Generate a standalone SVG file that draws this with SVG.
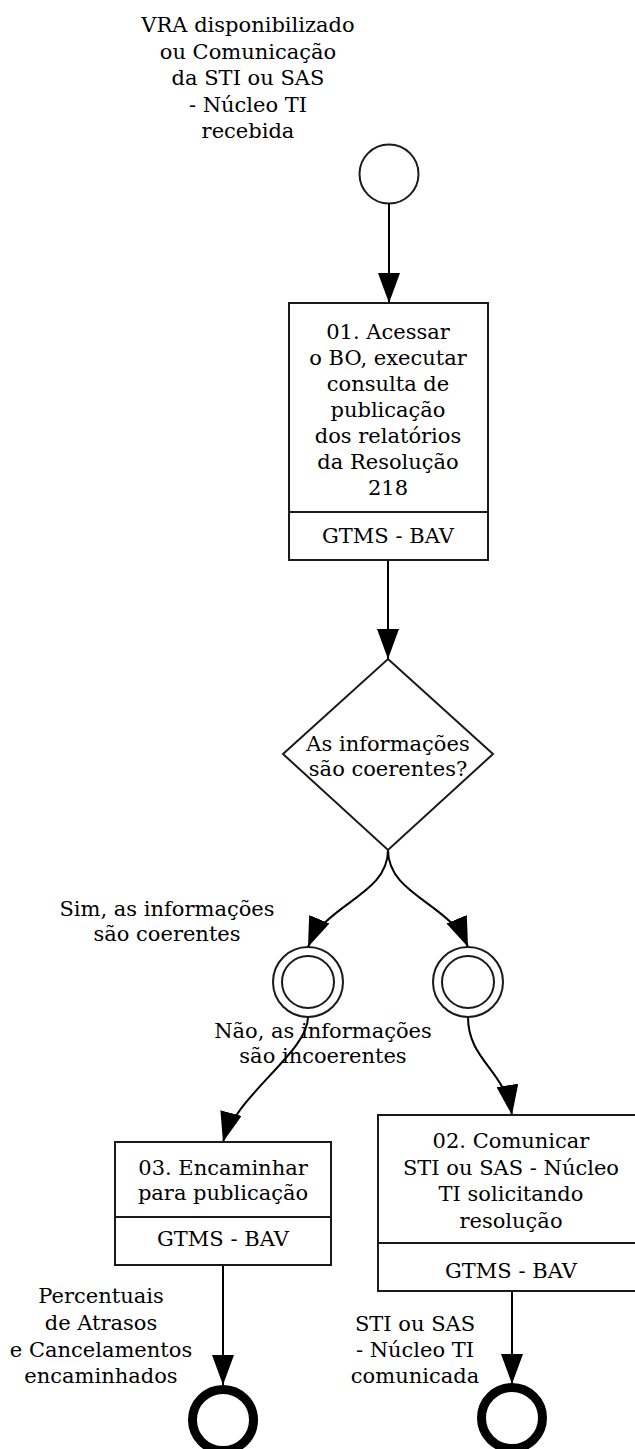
<svg xmlns="http://www.w3.org/2000/svg" width="635" height="1449" viewBox="0 0 635 1449">
<style>
text{font-family:"DejaVu Serif","Liberation Serif",serif;font-size:21px;fill:#000;text-anchor:middle}
.shape{fill:#fff;stroke:#1a1a1a;stroke-width:2}
.end{fill:none;stroke:#000;stroke-width:9}
.conn{fill:none;stroke:#000;stroke-width:2}
</style>
<defs>
<marker id="arr" markerUnits="userSpaceOnUse" markerWidth="30" markerHeight="22" refX="30" refY="11" orient="auto" viewBox="0 0 30 22">
<path d="M0,0 L30,11 L0,22 z" fill="#000"/>
</marker>
</defs>
<rect width="635" height="1449" fill="#fff"/>

<g id="connectors">
<path class="conn" d="M389,203 L389,303" marker-end="url(#arr)"/>
<path class="conn" d="M388,560 L388,659" marker-end="url(#arr)"/>
<path class="conn" d="M388,850 C388,895 326,903 308,947" marker-end="url(#arr)"/>
<path class="conn" d="M388,850 C388,895 450,903 468,947" marker-end="url(#arr)"/>
<path class="conn" d="M308,1017 C308,1052 236,1095 223,1142" marker-end="url(#arr)"/>
<path class="conn" d="M468,1017 C468,1060 505,1070 512,1115" marker-end="url(#arr)"/>
<path class="conn" d="M223,1265 L223,1385" marker-end="url(#arr)"/>
<path class="conn" d="M512,1291 L512,1384" marker-end="url(#arr)"/>
</g>

<g id="start">
<text x="248" y="32">VRA disponibilizado</text>
<text x="248" y="58.5">ou Comunicação</text>
<text x="248" y="85">da STI ou SAS</text>
<text x="248" y="111.5">- Núcleo TI</text>
<text x="248" y="138">recebida</text>
<circle class="shape" cx="389" cy="174" r="29.5"/>
</g>

<g id="task01">
<rect class="shape" x="289" y="303" width="199" height="257"/>
<line class="shape" x1="289" y1="512" x2="488" y2="512"/>
<text x="388" y="339">01. Acessar</text>
<text x="388" y="365">o BO, executar</text>
<text x="388" y="391">consulta de</text>
<text x="388" y="417">publicação</text>
<text x="388" y="443">dos relatórios</text>
<text x="388" y="469">da Resolução</text>
<text x="388" y="495">218</text>
<text x="388" y="543">GTMS - BAV</text>
</g>

<g id="gateway">
<polygon class="shape" points="388,659 493,754 388,850 283,754"/>
<text x="388" y="751">As informações</text>
<text x="388" y="776">são coerentes?</text>
</g>

<g id="event-sim">
<circle class="shape" cx="308" cy="982" r="35"/>
<circle class="shape" cx="308" cy="982" r="26"/>
<text x="167" y="916">Sim, as informações</text>
<text x="167" y="941">são coerentes</text>
</g>

<g id="event-nao">
<circle class="shape" cx="468" cy="982" r="35"/>
<circle class="shape" cx="468" cy="982" r="26"/>
</g>

<g id="label-nao">
<text x="323" y="1038">Não, as informações</text>
<text x="323" y="1063">são incoerentes</text>
</g>

<g id="task03">
<rect class="shape" x="115" y="1142" width="216" height="123"/>
<line class="shape" x1="115" y1="1217" x2="331" y2="1217"/>
<text x="223" y="1175">03. Encaminhar</text>
<text x="223" y="1200">para publicação</text>
<text x="223" y="1246">GTMS - BAV</text>
</g>

<g id="task02">
<rect class="shape" x="378" y="1115" width="268" height="176"/>
<line class="shape" x1="378" y1="1243" x2="646" y2="1243"/>
<text x="511" y="1148">02. Comunicar</text>
<text x="511" y="1175">STI ou SAS - Núcleo</text>
<text x="511" y="1201">TI solicitando</text>
<text x="511" y="1228">resolução</text>
<text x="511" y="1278">GTMS - BAV</text>
</g>

<g id="end-left">
<text x="101" y="1303">Percentuais</text>
<text x="101" y="1330">de Atrasos</text>
<text x="101" y="1357">e Cancelamentos</text>
<text x="101" y="1383">encaminhados</text>
<circle class="end" cx="223" cy="1420" r="30.5"/>
</g>

<g id="end-right">
<text x="415" y="1331">STI ou SAS</text>
<text x="415" y="1357">- Núcleo TI</text>
<text x="415" y="1383">comunicada</text>
<circle class="end" cx="512" cy="1418" r="30.5"/>
</g>
</svg>
